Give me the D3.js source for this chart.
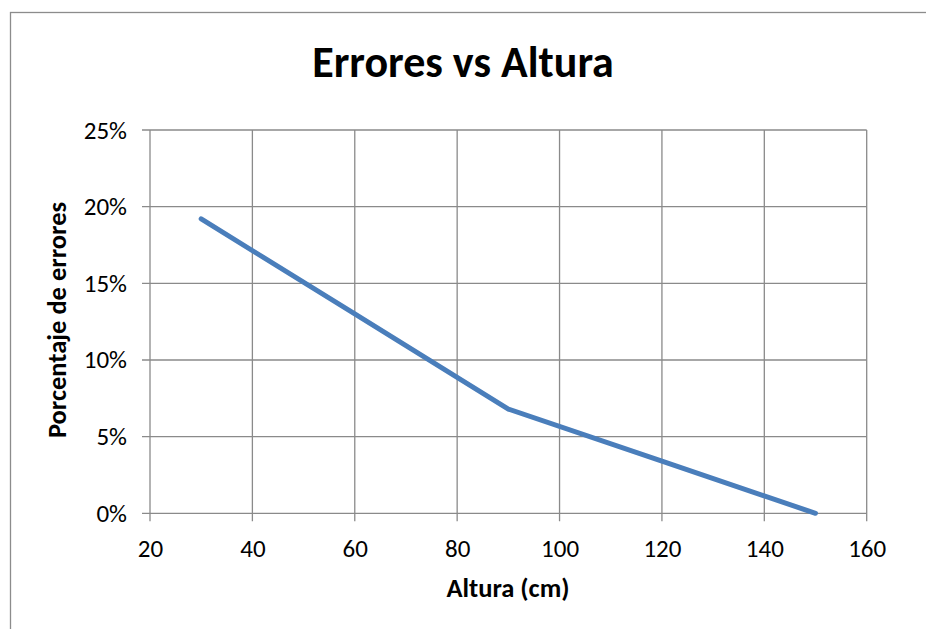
<!DOCTYPE html>
<html>
<head>
<meta charset="utf-8">
<script src="https://cdn.jsdelivr.net/npm/d3@7"></script>
<style>
  body { margin: 0; background: #fff; }
  svg { display: block; font-family: Carlito, Calibri, Lato, sans-serif; }
</style>
</head>
<body>
<div id="chart"></div>
<script>
// datos
const alturas = [30, 60, 90, 120, 150];
const errores = [0.192, 0.130, 0.068, 0.034, 0.0];
const xTicks = [20, 40, 60, 80, 100, 120, 140, 160];
const yTicks = [0, 0.05, 0.10, 0.15, 0.20, 0.25];

const W = 926, H = 629;
const plot = { left: 150, right: 866.7, top: 130, bottom: 513.3 };

const svg = d3.select("#chart").append("svg")
  .attr("width", W)
  .attr("height", H);

svg.append("rect").attr("width", W).attr("height", H).attr("fill", "#fff");

// marco del área del gráfico
svg.append("rect")
  .attr("x", 10.5).attr("y", 12.5)
  .attr("width", 1000).attr("height", 1000)
  .attr("fill", "none")
  .attr("stroke", "#8c8c8c")
  .attr("stroke-width", 1.3);

const x = d3.scaleLinear().domain([20, 160]).range([plot.left, plot.right]);
const y = d3.scaleLinear().domain([0, 0.25]).range([plot.bottom, plot.top]);

// Título
svg.append("text")
  .attr("x", 463).attr("y", 77)
  .attr("text-anchor", "middle")
  .style("font-weight", "bold")
  .style("font-size", "44px")
  .text("Errores vs Altura");

// Cuadrícula
const grid = svg.append("g").attr("stroke", "#8a8a8a").attr("stroke-width", 1.3);
grid.selectAll(".gx").data(xTicks).enter().append("line")
  .attr("x1", d => x(d)).attr("x2", d => x(d))
  .attr("y1", plot.top).attr("y2", plot.bottom + 8);
grid.selectAll(".gy").data(yTicks).enter().append("line")
  .attr("x1", plot.left - 8).attr("x2", plot.right)
  .attr("y1", d => y(d)).attr("y2", d => y(d));

// Ejes (solo etiquetas)
const xAxis = svg.append("g")
  .attr("transform", `translate(0,${plot.bottom})`)
  .call(d3.axisBottom(x).tickValues(xTicks).tickSize(0).tickPadding(44));
const yAxis = svg.append("g")
  .attr("transform", `translate(${plot.left},0)`)
  .call(d3.axisLeft(y).tickValues(yTicks).tickFormat(d3.format(".0%")).tickSize(0).tickPadding(23));
[xAxis, yAxis].forEach(a => {
  a.select(".domain").remove();
  a.selectAll("text")
    .style("font-family", "Carlito, Calibri, Lato, sans-serif")
    .style("font-size", "25px")
    .attr("fill", "#000");
});
xAxis.selectAll("text").attr("dy", null);

// Títulos de los ejes
svg.append("text")
  .attr("x", 508).attr("y", 597)
  .attr("text-anchor", "middle")
  .style("font-weight", "bold")
  .style("font-size", "26.5px")
  .text("Altura (cm)");

svg.append("text")
  .attr("transform", "translate(66,320) rotate(-90)")
  .attr("text-anchor", "middle")
  .style("font-weight", "bold")
  .style("font-size", "26.5px")
  .text("Porcentaje de errores");

// Línea
const line = d3.line().x((d, i) => x(alturas[i])).y(d => y(d));
svg.append("path")
  .datum(errores)
  .attr("d", line)
  .attr("fill", "none")
  .attr("stroke", "#4a7ebb")
  .attr("stroke-width", 5)
  .attr("stroke-linecap", "round")
  .attr("stroke-linejoin", "round");
</script>
</body>
</html>
